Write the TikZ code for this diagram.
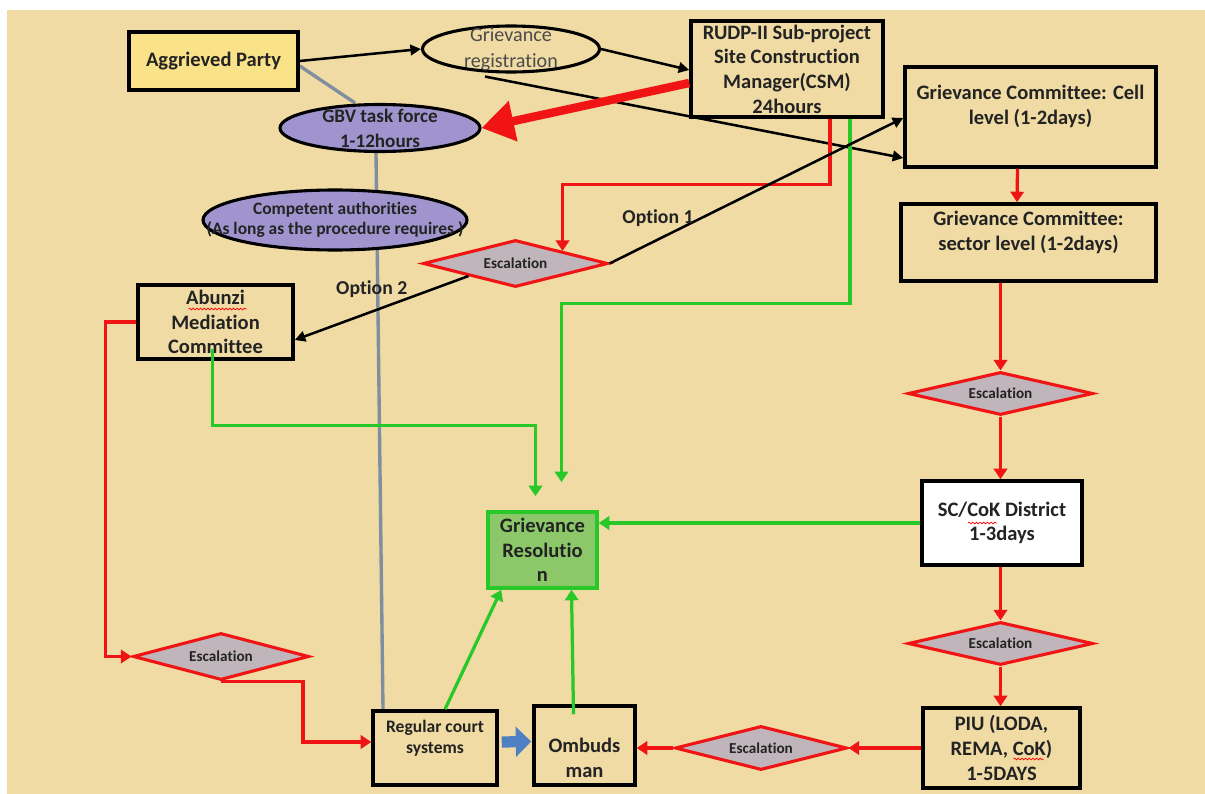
\documentclass[tikz,border=0pt]{standalone}
\usepackage{fontspec}
\setmainfont{Carlito}[Ligatures={TeX,NoCommon}]
\usetikzlibrary{shapes.geometric,arrows.meta,calc,backgrounds,decorations.pathmorphing}
\definecolor{parchment}{RGB}{239,219,163}
\definecolor{ink}{RGB}{35,35,35}
\definecolor{partyyellow}{RGB}{249,226,135}
\definecolor{lavender}{RGB}{160,148,206}
\definecolor{escgray}{RGB}{192,181,186}
\definecolor{flowred}{RGB}{240,20,20}
\definecolor{flowgreen}{RGB}{40,200,40}
\definecolor{resgreen}{RGB}{140,200,105}
\definecolor{linkgray}{RGB}{128,142,160}
\definecolor{courtblue}{RGB}{80,128,196}
\newlength{\pix}
\setlength{\pix}{0.025cm}
\tikzset{%
  stagetext/.style = {align=center, text=ink,%
                      font=\fontsize{14.6}{17.6}\selectfont\bfseries},%
  stage/.style     = {stagetext, shape=rectangle, draw=black, line width=2.5pt,%
                      inner sep=0pt},%
  oval/.style      = {shape=ellipse, draw=black, line width=2.2pt, inner sep=0pt},%
  ovaltext/.style  = {align=center, text=ink},%
  escal/.style     = {shape=diamond, aspect=4, draw=flowred, fill=escgray,%
                      line width=2.2pt, inner sep=0pt, text=ink,%
                      font=\fontsize{10.8}{13}\selectfont\bfseries},%
  redflow/.style   = {draw=flowred, line width=2.3pt,%
                      -{Triangle[length=7.5pt,width=9.5pt]}},%
  greenflow/.style = {draw=flowgreen, line width=2.3pt,%
                      -{Triangle[length=7.5pt,width=9.5pt]}},%
  blackflow/.style = {draw=black, line width=1.8pt,%
                      -{Triangle[length=7.5pt,width=7.5pt]}},%
  bigred/.style    = {draw=flowred, line width=6pt,%
                      -{Triangle[length=23pt,width=28pt]}},%
  courtarrow/.style= {draw=courtblue, line width=8pt,%
                      -{Triangle[length=11pt,width=21pt]}},%
  graylink/.style  = {draw=linkgray, line width=2.4pt},%
  optlabel/.style  = {text=ink, font=\fontsize{14}{17}\selectfont\bfseries},%
  squiggle/.style  = {draw=red, line width=0.5pt, decorate,%
                      decoration={snake, amplitude=0.6pt, segment length=2.6pt}}%
}

\begin{document}
\begin{tikzpicture}[x=0.025cm, y=-0.025cm]
  \useasboundingbox (0,0) rectangle (1205,794);

  % top row
  \node[stage, fill=partyyellow, minimum width=169\pix, minimum height=58\pix]
    (party) at (213.5,61) {Aggrieved Party};
  \node[oval, minimum width=177\pix, minimum height=46\pix,
    label={[ovaltext, text={rgb,255:red,75;green,75;blue,75},
            font=\fontsize{14.3}{18.5}\selectfont]center:{Grievance\\registration}}]
    (reg) at (511,49) {};
  \node[stage, minimum width=192\pix, minimum height=96\pix]
    (csm) at (787,69) {RUDP-II Sub-project\\Site Construction\\Manager(CSM)\\24hours};
  \node[oval, fill=lavender, minimum width=200\pix, minimum height=47\pix,
    label={[ovaltext, font=\fontsize{13.6}{17.8}\selectfont\bfseries]center:{GBV task force\\1-12hours}}]
    (gbv) at (380,128) {};
  \node[oval, fill=lavender, minimum width=264\pix, minimum height=60\pix,
    label={[ovaltext, font=\fontsize{12.4}{14.4}\selectfont\bfseries]center:{Competent authorities\\(As long as the procedure requires )}}]
    (auth) at (335,220) {};

  % right column
  \node[stage, minimum width=251\pix, minimum height=100\pix, text depth=17pt]
    (cell) at (1030.5,117) {Grievance Committee: Cell\\level (1-2days)};
  \node[stage, minimum width=255\pix, minimum height=77\pix, text depth=17pt]
    (sector) at (1028.5,242.5) {Grievance Committee:\\sector level (1-2days)};
  \node[escal, minimum width=185\pix, minimum height=43\pix] (escA) at (1000.5,393.5) {Escalation};
  \node[stage, fill=white, minimum width=160\pix, minimum height=84\pix]
    (district) at (1002,523) {SC/CoK District\\1-3days};
  \node[escal, minimum width=185\pix, minimum height=43\pix] (escB) at (1000.5,643.5) {Escalation};
  \node[stage, minimum width=157\pix, minimum height=80\pix]
    (piu) at (1001.5,748) {PIU (LODA,\\REMA, CoK)\\1-5DAYS};

  % middle and bottom
  \node[escal, minimum width=185\pix, minimum height=47\pix] (esc1) at (515.5,263.5) {Escalation};
  \node[stage, minimum width=155\pix, minimum height=74\pix]
    (abunzi) at (215.5,322) {Abunzi\\Mediation\\Committee};
  \node[stage, draw=flowgreen, fill=resgreen, minimum width=109\pix, minimum height=76\pix]
    (res) at (542.5,550) {Grievance\\Resolutio\\n};
  \node[escal, minimum width=176\pix, minimum height=47\pix] (escD) at (221,656.5) {Escalation};
  \node[stage, minimum width=124\pix, minimum height=74\pix, text depth=16pt,
    font=\fontsize{12.5}{15}\selectfont\bfseries]
    (court) at (435,748) {Regular court\\systems};
  \node[stage, minimum width=101\pix, minimum height=79\pix,
    label={[stagetext, yshift=-9pt]center:{Ombuds\\man}}]
    (ombud) at (584.5,745.5) {};
  \node[escal, minimum width=172\pix, minimum height=44\pix] (escC) at (761,748) {Escalation};

  % spell check marks
  \draw[squiggle] ($(abunzi.center)+(-27,-13)$) -- ($(abunzi.center)+(31,-13)$);
  \draw[squiggle] ($(district.center)+(-34,0)$) -- ($(district.center)+(-5,0)$);
  \draw[squiggle] ($(piu.center)+(12,11)$) -- ($(piu.center)+(42,11)$);

  \begin{scope}[on background layer]
    \fill[white] (0,0) rectangle (1205,794);
    \fill[parchment] (7,10) rectangle (1205,794);
    \draw[graylink] ($(party.east)+(0,5)$) -- ($(gbv.north)+(-25,0)$);
    \draw[graylink] ($(gbv.south)+(-4,0)$) -- ($(court.north)+(-52,0)$);
  \end{scope}

  % registration
  \draw[blackflow] (party.east) -- (reg.west);
  \draw[blackflow] (reg.east) -- ($(csm.west)+(0,1)$);
  \draw[blackflow] ($(reg.south)+(-26,3)$) -- ($(cell.west)+(0,41)$);
  \draw[bigred] ($(csm.west)+(0,14)$) -- (gbv.east);
  \draw[redflow] ($(csm.south)+(43,0)$) -- ++(0,66) -| (esc1.north east);
  \draw[greenflow, shorten >=20pt] ($(csm.south)+(63,0)$) -- ++(0,185) -| ($(res.north)+(19,0)$);

  % options
  \draw[blackflow] (esc1.east) -- ($(cell.west)+(0,1)$)
    node[pos=0.165, yshift=15pt, optlabel] {Option 1};
  \draw[blackflow] (esc1.south west) -- ($(abunzi.east)+(0,18)$)
    node[pos=0.557, yshift=16pt, optlabel] {Option 2};

  % resolution
  \draw[greenflow, shorten >=10pt] ($(abunzi.south)+(-3,-12)$) -- ++(0,77) -| ($(res.north)+(-7,0)$);
  \draw[greenflow] (district.west) -- (district.west -| res.east);
  \draw[greenflow] ($(court.north)+(10,0)$) -- ($(res.south west)+(15,0)$);
  \draw[greenflow] ($(ombud.north)+(-11,10)$) -- ($(res.south)+(29,0)$);

  % escalation chain
  \draw[redflow] ($(cell.south)+(-13,0)$) -- ($(sector.north)+(-11.5,0)$);
  \draw[redflow] (sector.south -| escA.north) -- (escA.north);
  \draw[redflow] (escA.south) -- (escA.south |- district.north);
  \draw[redflow] (escB.north |- district.south) -- (escB.north);
  \draw[redflow] (escB.south) -- (escB.south |- piu.north);
  \draw[redflow] (piu.west) -- (escC.east);
  \draw[redflow] (escC.west) -- (escC.west -| ombud.east);
  \draw[redflow] (abunzi.west) -- ++(-31,0) |- (escD.west);
  \draw[redflow] (escD.south) -- ++(82,0) |- ($(court.west)+(0,-6)$);
  \draw[courtarrow] ($(court.east)+(3,-6)$) -- ($(ombud.west)+(-1,-4)$);
\end{tikzpicture}
\end{document}
